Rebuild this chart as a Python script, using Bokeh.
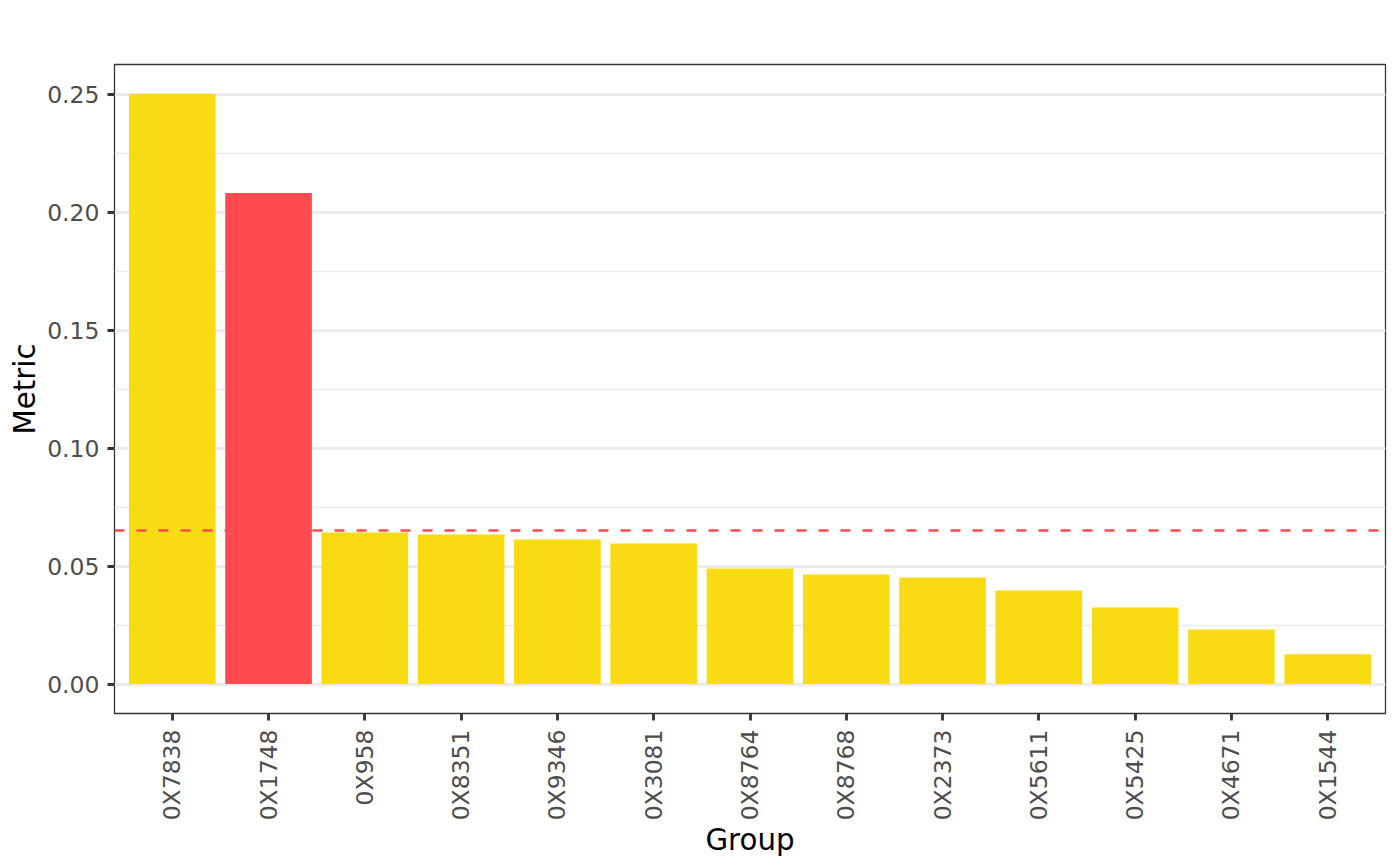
from bokeh.plotting import figure
from bokeh.models import ColumnDataSource, SingleIntervalTicker, NumeralTickFormatter, Range1d, FactorRange
from bokeh.embed import file_html
from bokeh.resources import INLINE
import math

groups = ["0X7838", "0X1748", "0X958", "0X8351", "0X9346", "0X3081", "0X8764",
          "0X8768", "0X2373", "0X5611", "0X5425", "0X4671", "0X1544"]
metric = [0.2500, 0.2080, 0.0642, 0.0633, 0.0612, 0.0595, 0.0489,
          0.0464, 0.0451, 0.0396, 0.0324, 0.0231, 0.0126]
highlight = ["0X1748"]
threshold = 0.0649

YELLOW = "#F9DB14"
RED = "#FF4B4F"

base_src = ColumnDataSource(dict(
    group=[g for g in groups if g not in highlight],
    metric=[m for g, m in zip(groups, metric) if g not in highlight]))
hi_src = ColumnDataSource(dict(
    group=[g for g in groups if g in highlight],
    metric=[m for g, m in zip(groups, metric) if g in highlight]))

p = figure(
    width=1392, height=862,
    x_range=FactorRange(*groups, range_padding=0.1, range_padding_units="absolute"),
    y_range=Range1d(-0.0125, 0.2625),
    output_backend="svg", toolbar_location=None,
    min_border_left=114, min_border_right=7, min_border_top=64, min_border_bottom=149,
)
p.background_fill_color = "white"
p.border_fill_color = "white"
p.outline_line_color = "#333333"
p.outline_line_width = 1.3

# grid
p.xgrid.grid_line_color = None
p.ygrid.grid_line_color = "#EBEBEB"
p.ygrid.grid_line_width = 2.8
p.ygrid.minor_grid_line_color = "#EBEBEB"
p.ygrid.minor_grid_line_width = 1.4
p.yaxis.ticker = SingleIntervalTicker(interval=0.05, num_minor_ticks=2)
p.yaxis.formatter = NumeralTickFormatter(format="0.00")

# base bars, then threshold line, then highlighted bar on top
p.vbar(x="group", top="metric", bottom=0, width=0.9, fill_color=YELLOW,
       line_color=None, source=base_src)
p.hspan(y=[threshold], line_color=RED, line_width=2.6, line_dash="10 12")
p.vbar(x="group", top="metric", bottom=0, width=0.9, fill_color=RED,
       line_color=None, source=hi_src)

for ax in (p.xaxis, p.yaxis):
    ax.axis_line_color = None
    ax.major_tick_line_color = "#333333"
    ax.major_tick_line_width = 2.8
    ax.major_tick_out = 7
    ax.major_tick_in = 0
    ax.minor_tick_line_color = None
    ax.major_label_text_font = "DejaVu Sans"
    ax.major_label_text_font_size = "23.5px"
    ax.major_label_text_color = "#4D4D4D"
    ax.axis_label_text_font = "DejaVu Sans"
    ax.axis_label_text_font_size = "29.3px"
    ax.axis_label_text_font_style = "normal"
    ax.axis_label_text_color = "black"

p.xaxis.major_label_standoff = 9
p.xaxis.axis_label_standoff = 0
p.yaxis.major_label_standoff = 8
p.yaxis.axis_label_standoff = 2

p.xaxis.axis_label = "Group"
p.yaxis.axis_label = "Metric"
p.xaxis.major_label_orientation = math.pi / 2

open("out.html", "w").write(file_html(p, INLINE))
